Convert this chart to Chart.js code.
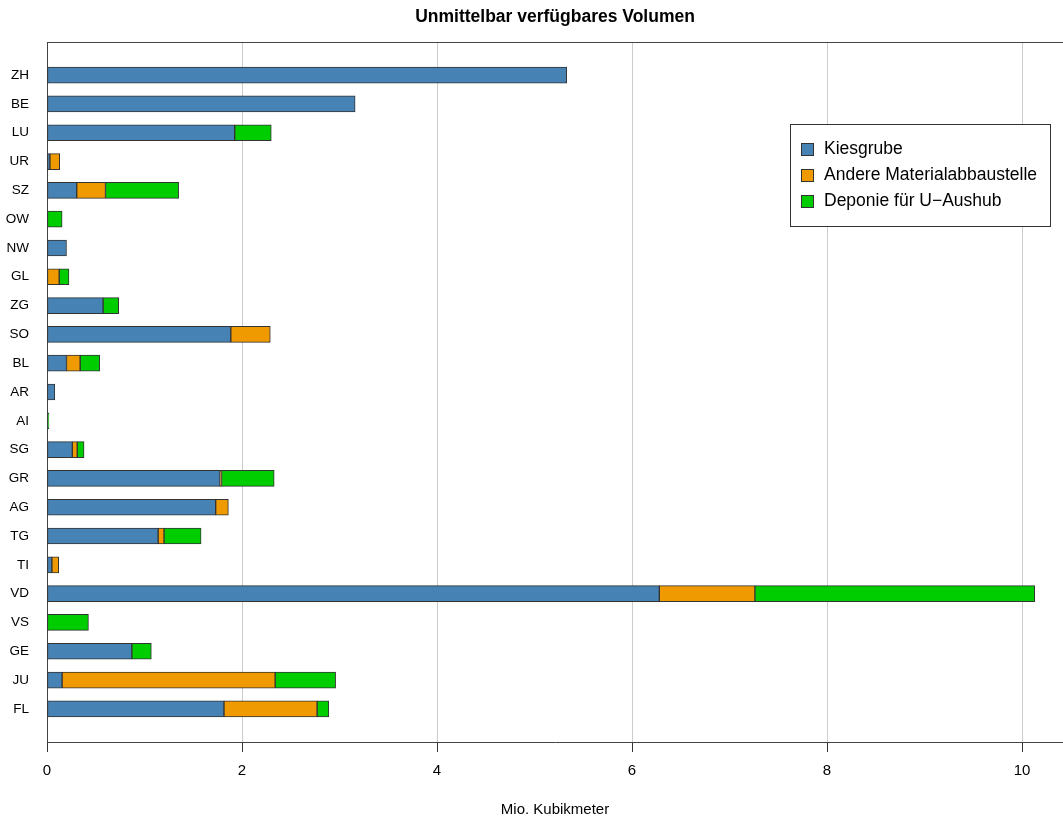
<!DOCTYPE html>
<html>
<head>
<meta charset="utf-8">
<script src="https://cdn.jsdelivr.net/npm/chart.js@4.4.1/dist/chart.umd.min.js"></script>
<style>
  body { margin: 0; background: #fff; }
  #wrap { width: 1063px; height: 816px; }
</style>
</head>
<body>
<div id="wrap"><canvas id="mycanvas"></canvas></div>
<script>
// Kantone, von oben nach unten
var kantone = ["ZH","BE","LU","UR","SZ","OW","NW","GL","ZG","SO","BL","AR","AI","SG","GR","AG","TG","TI","VD","VS","GE","JU","FL"];

// Mio. Kubikmeter
var kiesgrube = [5.33, 3.16, 1.925, 0.03, 0.305, 0, 0.2, 0, 0.575, 1.885, 0.2, 0.08, 0, 0.26, 1.775, 1.73, 1.14, 0.05, 6.28, 0, 0.87, 0.155, 1.815];
var andere    = [0, 0, 0, 0.10, 0.295, 0, 0, 0.125, 0, 0.405, 0.14, 0, 0, 0.05, 0.015, 0.13, 0.06, 0.07, 0.98, 0, 0, 2.185, 0.955];
var deponie   = [0, 0, 0.375, 0, 0.75, 0.155, 0, 0.10, 0.16, 0, 0.20, 0, 0.02, 0.07, 0.54, 0, 0.38, 0, 2.87, 0.425, 0.20, 0.62, 0.12];

var xTicks = [0, 2, 4, 6, 8, 10];

function pts(arr) {
	return arr.map(function(v, i) { return { x: v, y: i }; });
}

var font = "'Liberation Sans', Arial, Helvetica, sans-serif";

var chartdata = {
	datasets: [
		{ label: "Kiesgrube", data: pts(kiesgrube), backgroundColor: "#4682B4" },
		{ label: "Andere Materialabbaustelle", data: pts(andere), backgroundColor: "#EE9A00" },
		{ label: "Deponie für U\u2212Aushub", data: pts(deponie), backgroundColor: "#00CD00" }
	]
};
chartdata.datasets.forEach(function(d) {
	d.borderColor = "#333333";
	d.borderWidth = 1;
	d.borderSkipped = false;
	d.barThickness = 16;
});

// oberer Rahmen + Legende
var frame = {
	id: "frame",
	afterDraw: function(chart) {
		var c = chart.ctx, a = chart.chartArea;
		c.save();
		c.strokeStyle = "#444";
		c.lineWidth = 1;
		c.beginPath();
		c.moveTo(a.left, a.top + 0.5);
		c.lineTo(a.right, a.top + 0.5);
		c.stroke();

		// legend box
		var bx = 790.5, by = 124.5, bw = 260, bh = 102;
		c.fillStyle = "#fff";
		c.fillRect(bx, by, bw, bh);
		c.strokeStyle = "#333";
		c.strokeRect(bx, by, bw, bh);
		c.font = "17.5px " + font;
		c.textBaseline = "middle";
		chart.data.datasets.forEach(function(d, i) {
			var y = 149 + i * 26;
			c.fillStyle = d.backgroundColor;
			c.fillRect(801, y - 6, 12, 12);
			c.strokeStyle = "#333";
			c.strokeRect(801.5, y - 5.5, 12, 12);
			c.fillStyle = "#000";
			c.fillText(d.label, 824, y);
		});
		c.restore();
	}
};

var ctx = document.getElementById("mycanvas");

var LineGraph = new Chart(ctx, {
	type: "bar",
	data: chartdata,
	plugins: [frame],
	options: {
		indexAxis: "y",
		responsive: true,
		maintainAspectRatio: false,
		animation: false,
		layout: { padding: 0 },
		plugins: {
			legend: { display: false },
			tooltip: { enabled: false },
			title: {
				display: true,
				text: "Unmittelbar verfügbares Volumen",
				color: "#000",
				fullSize: false,
				font: { family: font, size: 17.5, weight: "bold" },
				padding: { top: 7, bottom: 14 }
			}
		},
		scales: {
			x: {
				type: "linear",
				stacked: true,
				min: 0,
				max: 10.42,
				afterBuildTicks: function(scale) {
					scale.ticks = xTicks.map(function(v) { return { value: v }; });
				},
				afterFit: function(scale) { scale.height = 74; },
				ticks: {
					color: "#000",
					padding: 10,
					font: { family: font, size: 15 },
					maxRotation: 0
				},
				grid: {
					color: "#cccccc",
					tickColor: "#333",
					tickLength: 10,
					drawTicks: true
				},
				border: { display: true, color: "#444", width: 1 },
				title: {
					display: true,
					text: "Mio. Kubikmeter",
					color: "#000",
					font: { family: font, size: 15 },
					padding: { top: 0, bottom: -3 }
				}
			},
			y: {
				type: "linear",
				stacked: true,
				reverse: true,
				offset: false,
				min: -1.15,
				max: 23.15,
				afterBuildTicks: function(scale) {
					scale.ticks = kantone.map(function(k, i) { return { value: i }; });
				},
				afterFit: function(scale) { scale.width = 47; },
				ticks: {
					autoSkip: false,
					color: "#000",
					padding: 18,
					font: { family: font, size: 13.5 },
					callback: function(v) { return kantone[v]; }
				},
				grid: { display: false, drawTicks: false, offset: false },
				border: { display: true, color: "#444", width: 1 }
			}
		}
	}
});
</script>
</body>
</html>
